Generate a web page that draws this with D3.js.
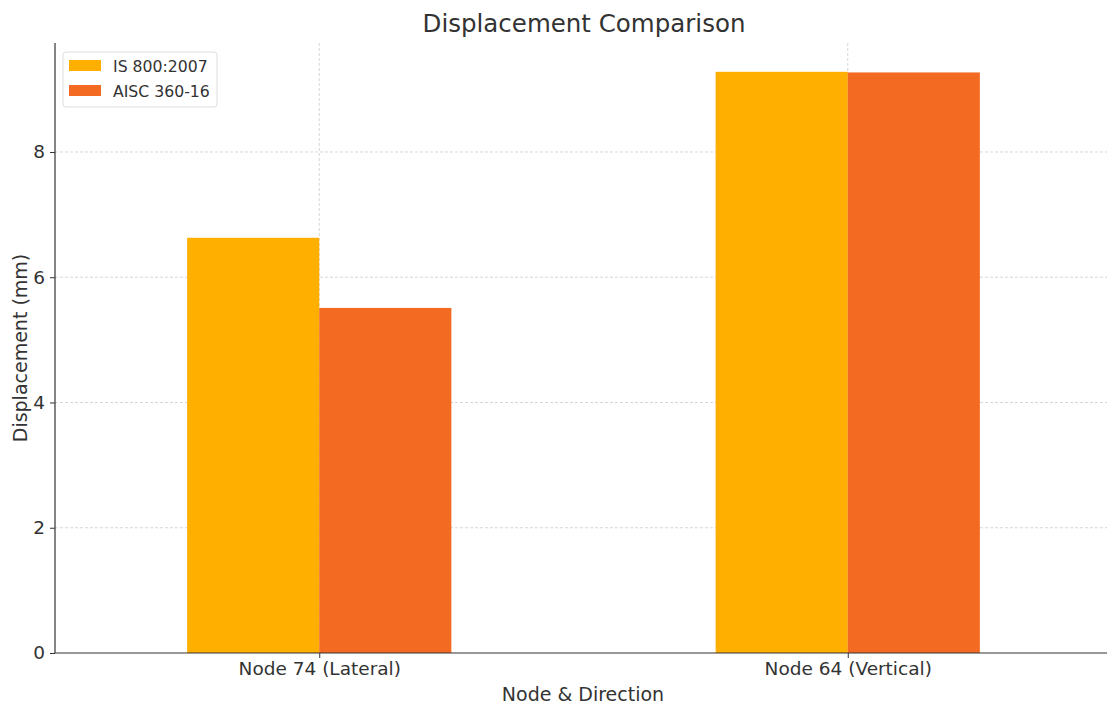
<!DOCTYPE html>
<html><head><meta charset="utf-8">
<script src="https://cdn.jsdelivr.net/npm/d3@7"></script>
<style>body{margin:0;background:#fff}svg{display:block}text{font-family:"DejaVu Sans",sans-serif;fill:#333}</style>
</head><body><svg id="c" width="1107" height="707"></svg>
<script>
const categories = ["Node 74 (Lateral)", "Node 64 (Vertical)"];
const seriesNames = ["IS 800:2007", "AISC 360-16"];
const isValues = [6.63, 9.28];
const aiscValues = [5.51, 9.27];
const yTicks = [0, 2, 4, 6, 8];
const colors = ["#FFAF00", "#F36A22"];

const svg = d3.select("#c");
const m = {l:55, r:1112, t:43, b:653};
const x = d3.scaleLinear().domain([-0.5, 1.5]).range([m.l, m.r]);
const y = d3.scaleLinear().domain([0, 9.74]).range([m.b, m.t]);
const bw = 0.25;

// grid
const g = svg.append("g");
g.selectAll(".hg").data(yTicks.slice(1)).join("line")
  .attr("x1", m.l).attr("x2", m.r).attr("y1", d=>y(d)).attr("y2", d=>y(d))
  .attr("stroke", "#ccc").attr("stroke-dasharray", "3,2").attr("stroke-width", 0.8);
g.selectAll(".vg").data(categories).join("line")
  .attr("x1", (d,i)=>x(i)).attr("x2", (d,i)=>x(i)).attr("y1", m.t).attr("y2", m.b)
  .attr("stroke", "#ccc").attr("stroke-dasharray", "3,2").attr("stroke-width", 0.8);

const series = [isValues, aiscValues];
series.forEach((vals, s) => {
  svg.append("g").selectAll("rect").data(vals).join("rect")
    .attr("x", (d,i)=>x(i + (s===0 ? -bw : 0)))
    .attr("width", x(bw) - x(0))
    .attr("y", d=>y(d)).attr("height", d=>y(0)-y(d))
    .attr("fill", colors[s]);
});

// axes
const ya = svg.append("g").attr("transform", `translate(${m.l},0)`)
  .call(d3.axisLeft(y).tickValues(yTicks).tickSize(5).tickPadding(5).tickFormat(d3.format("d")));
ya.select(".domain").remove();
ya.selectAll("line").attr("stroke", "#333");
ya.selectAll("text").style("font-size", "18.5px").attr("fill", "#333");
const xa = svg.append("g").attr("transform", `translate(0,${m.b})`)
  .call(d3.axisBottom(x).tickValues([0,1]).tickSize(5).tickPadding(4).tickFormat(i=>categories[i]));
xa.select(".domain").remove();
xa.selectAll("line").attr("stroke", "#333");
xa.selectAll("text").style("font-size", "18.5px").attr("fill", "#333");

svg.append("line").attr("x1", m.l).attr("x2", m.l).attr("y1", m.t).attr("y2", m.b).attr("stroke", "#333").attr("stroke-width", 1.2);
svg.append("line").attr("x1", m.l).attr("x2", m.r).attr("y1", m.b).attr("y2", m.b).attr("stroke", "#333").attr("stroke-width", 1.2);

svg.append("text").attr("x", 584).attr("y", 32).attr("text-anchor", "middle").style("font-size", "24.5px").text("Displacement Comparison");
svg.append("text").attr("x", 583).attr("y", 701).attr("text-anchor", "middle").style("font-size", "19px").text("Node & Direction");
svg.append("text").attr("transform", "translate(27,348) rotate(-90)").attr("text-anchor", "middle").style("font-size", "19px").text("Displacement (mm)");

// legend
const lg = svg.append("g").attr("transform", "translate(63,52)");
lg.append("rect").attr("width", 154).attr("height", 55).attr("rx", 3).attr("fill", "#fff").attr("fill-opacity", 0.8).attr("stroke", "#ddd");
seriesNames.forEach((n, i) => {
  lg.append("rect").attr("x", 6).attr("y", 8 + i*25).attr("width", 32).attr("height", 11).attr("fill", colors[i]);
  lg.append("text").attr("x", 50).attr("y", 19.5 + i*25).style("font-size", "15.7px").text(n);
});
</script></body></html>
